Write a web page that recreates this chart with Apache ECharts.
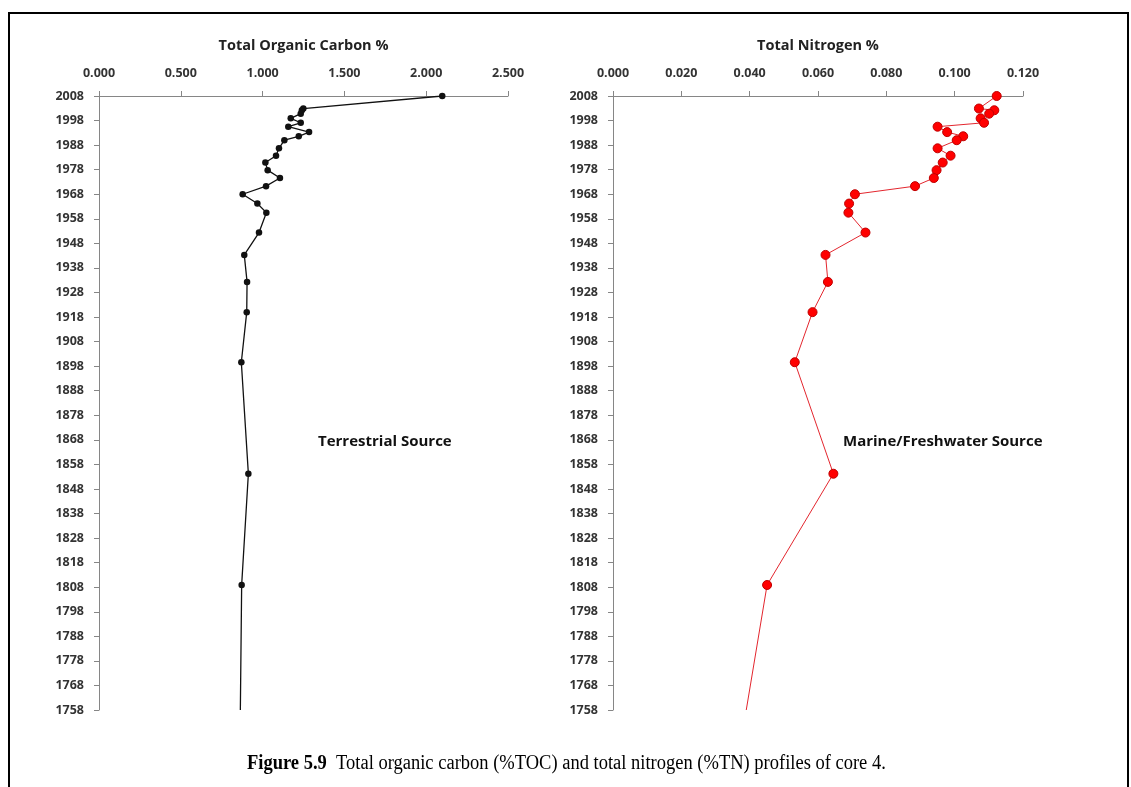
<!DOCTYPE html>
<html>
<head>
<meta charset="utf-8">
<script src="https://cdn.jsdelivr.net/npm/echarts@6/dist/echarts.min.js"></script>
<style>
html,body{margin:0;padding:0;background:#fff;}
#chart{width:1131px;height:787px;}
</style>
</head>
<body>
<div id="chart"></div>
<script>
// Sample years (shared by both profiles)
const years = [2008, 2002.9, 2002.2, 2000.8, 1998.9, 1997.1, 1995.5, 1993.3, 1991.6, 1990.0, 1986.7, 1983.7, 1980.9, 1977.8, 1974.6, 1971.3, 1968.0, 1964.2, 1960.5, 1952.4, 1943.3, 1932.3, 1920.0, 1899.6, 1854.2, 1808.9, 1758];
// Total organic carbon %
const tocValues = [2.098, 1.249, 1.240, 1.233, 1.172, 1.233, 1.157, 1.284, 1.221, 1.133, 1.100, 1.082, 1.017, 1.031, 1.106, 1.021, 0.878, 0.968, 1.023, 0.978, 0.888, 0.905, 0.903, 0.870, 0.913, 0.872, 0.864];
// Total nitrogen %
const tnValues = [0.1123, 0.1071, 0.1116, 0.1101, 0.1076, 0.1086, 0.0950, 0.0978, 0.1025, 0.1006, 0.0950, 0.0988, 0.0965, 0.0947, 0.0939, 0.0884, 0.0708, 0.0691, 0.0689, 0.0739, 0.0622, 0.0629, 0.0584, 0.0532, 0.0645, 0.0451, 0.0390];
// Y tick labels
const yearTicks = [1758,1768,1778,1788,1798,1808,1818,1828,1838,1848,1858,1868,1878,1888,1898,1908,1918,1928,1938,1948,1958,1968,1978,1988,1998,2008];

const chart = echarts.init(document.getElementById('chart'), null, {renderer:'canvas'});
const FONT = 'Open Sans';

function build(values, lastNoSymbol){
  return values.map((v,i)=>{
    const item = {value:[v, years[i]]};
    if (lastNoSymbol && i === values.length-1) item.symbol = 'none';
    return item;
  });
}

function xAxis(gi, max, interval, name){
  return {
    type:'value', gridIndex:gi, position:'top', min:0, max:max, interval:interval,
    name:name, nameLocation:'middle', nameGap:43,
    nameTextStyle:{fontFamily:FONT, fontWeight:'bold', fontSize:14.5, color:'#222'},
    axisLine:{show:true, lineStyle:{color:'#868686', width:1}},
    axisTick:{show:true, length:5, lineStyle:{color:'#868686'}},
    axisLabel:{fontFamily:FONT, fontWeight:'bold', fontSize:12.5, color:'#333', margin:16,
      formatter:v=>Number(v).toFixed(3)},
    splitLine:{show:false}
  };
}
function yAxis(gi){
  return {
    type:'value', gridIndex:gi, min:1758, max:2008,
    axisLine:{show:true, lineStyle:{color:'#868686', width:1}},
    axisTick:{show:true, length:5, customValues:yearTicks, lineStyle:{color:'#868686'}},
    axisLabel:{fontFamily:FONT, fontWeight:'bold', fontSize:12.5, color:'#333', margin:15,
      customValues:yearTicks, formatter:v=>String(v)},
    splitLine:{show:false}
  };
}

chart.setOption({
  backgroundColor:'#fff',
  animation:false,
  grid:[
    {left:99, right:623, top:96, bottom:77},
    {left:613, right:108, top:96, bottom:77}
  ],
  xAxis:[ xAxis(0, 2.5, 0.5, 'Total Organic Carbon %'), xAxis(1, 0.12, 0.02, 'Total Nitrogen %') ],
  yAxis:[ yAxis(0), yAxis(1) ],
  series:[
    {type:'line', xAxisIndex:0, yAxisIndex:0, data:build(tocValues,true),
     symbol:'circle', symbolSize:6.5, showAllSymbol:true,
     lineStyle:{color:'#111', width:1.3},
     itemStyle:{color:'#111'}},
    {type:'line', xAxisIndex:1, yAxisIndex:1, data:build(tnValues,true),
     symbol:'circle', symbolSize:9, showAllSymbol:true,
     lineStyle:{color:'#e3262e', width:1},
     itemStyle:{color:'#ff0000', borderColor:'#c00000', borderWidth:1}}
  ],
  graphic:[
    {type:'rect', shape:{x:9, y:13, width:1119, height:800},
     style:{fill:null, stroke:'#000', lineWidth:2}, silent:true},
    {type:'text', left:318, top:434,
     style:{text:'Terrestrial Source', font:'bold 15px "Open Sans"', fill:'#111'}},
    {type:'text', left:843, top:434,
     style:{text:'Marine/Freshwater Source', font:'bold 15px "Open Sans"', fill:'#111'}},
    {type:'text', x:247, y:754, scaleX:0.925,
     style:{rich:{
        b:{fontFamily:'Liberation Serif', fontWeight:'bold', fontSize:20, fill:'#000'},
        n:{fontFamily:'Liberation Serif', fontSize:20, fill:'#000'}
     }, text:'{b|Figure 5.9}{n|  Total organic carbon (%TOC) and total nitrogen (%TN) profiles of core 4.}'}}
  ]
});
</script>
</body>
</html>
